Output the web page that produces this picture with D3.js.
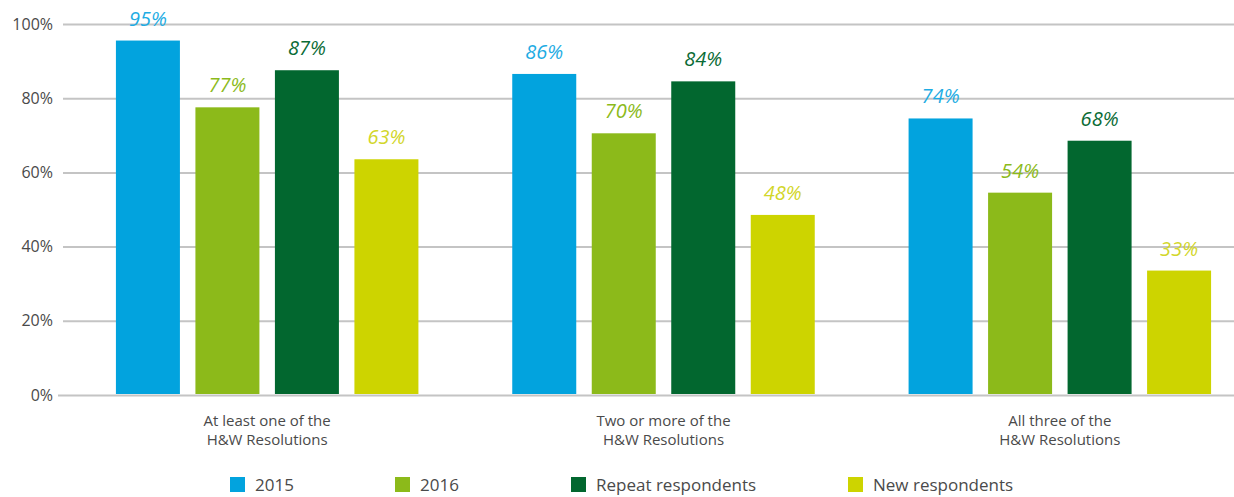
<!DOCTYPE html>
<html>
<head>
<meta charset="utf-8">
<script src="https://cdn.jsdelivr.net/npm/d3@7"></script>
<style>
	body { margin: 0; background: white; }
	text { font-family: "Open Sans", sans-serif; }
</style>
</head>
<body>
<svg></svg>
<script>
var w = 1234;
var h = 497;

// data
var categories = [["At least one of the", "H&W Resolutions"], ["Two or more of the", "H&W Resolutions"], ["All three of the", "H&W Resolutions"]];
var seriesNames = ["2015", "2016", "Repeat respondents", "New respondents"];
var values2015 = [95, 86, 74];
var values2016 = [77, 70, 54];
var valuesRepeat = [87, 84, 68];
var valuesNew = [63, 48, 33];
var yTicks = [0, 20, 40, 60, 80, 100];

var barColors = ["#02a3de", "#8cba1a", "#02672f", "#cdd400"];
var labelColors = ["#1eace3", "#8cba1a", "#0a6b35", "#d2d62a"];

var allSeries = [values2015, values2016, valuesRepeat, valuesNew];
var rows = [];
categories.forEach(function (c, i) {
	seriesNames.forEach(function (s, j) {
		rows.push({ cat: i, series: j, value: allSeries[j][i] });
	});
});

var canvas = d3.select("svg")
	.attr("width", w)
	.attr("height", h)
	.style("display", "block")
	.style("background-color", "white");

var y = d3.scaleLinear()
	.domain([0, 100])
	.range([394, 23]);

var x0 = d3.scaleBand()
	.domain(d3.range(categories.length))
	.range([69, 1258]);

var x1 = d3.scaleBand()
	.domain(d3.range(seriesNames.length))
	.range([-159, 159])
	.paddingInner(0.195)
	.paddingOuter(0.0975);

// gridlines + tick labels
var yAxis = d3.axisLeft(y)
	.tickValues(yTicks)
	.tickSize(-(w - 63))
	.tickPadding(10)
	.tickFormat(function (d) { return d + "%"; });

var axisG = canvas.append("g")
	.attr("transform", "translate(63,1)")
	.call(yAxis);
axisG.select(".domain").remove();
axisG.selectAll(".tick line")
	.attr("stroke", "#c4c4c4")
	.attr("stroke-width", 2);
axisG.selectAll(".tick")
	.filter(function (d) { return d === 0; })
	.select("line")
	.attr("x1", -5);
axisG.selectAll(".tick text")
	.attr("fill", "#4a4a4a")
	.style("font-size", "16px")
	.style("font-family", "'Open Sans', sans-serif");

// bars
canvas.append("g")
	.selectAll("rect")
	.data(rows)
	.join("rect")
	.attr("x", function (d) { return x0(d.cat) + x0.bandwidth() / 2 + x1(d.series); })
	.attr("width", x1.bandwidth())
	.attr("y", function (d) { return y(d.value) - 1; })
	.attr("height", function (d) { return y(0) - y(d.value) + 1; })
	.attr("fill", function (d) { return barColors[d.series]; });

// value labels
canvas.append("g")
	.selectAll("text")
	.data(rows)
	.join("text")
	.attr("x", function (d) { return x0(d.cat) + x0.bandwidth() / 2 + x1(d.series) + x1.bandwidth() / 2; })
	.attr("y", function (d) { return y(d.value) - 16; })
	.attr("text-anchor", "middle")
	.attr("fill", function (d) { return labelColors[d.series]; })
	.style("font-size", "20px")
	.style("font-style", "italic")
	.text(function (d) { return d.value + "%"; });

// category labels
var catG = canvas.append("g")
	.selectAll("text")
	.data(categories)
	.join("text")
	.attr("x", function (d, i) { return x0(i) + x0.bandwidth() / 2; })
	.attr("y", 426)
	.attr("text-anchor", "middle")
	.attr("fill", "#4a4a4a")
	.style("font-size", "15px");
catG.selectAll("tspan")
	.data(function (d) { return d; })
	.join("tspan")
	.attr("x", function () { return this.parentNode.getAttribute("x"); })
	.attr("dy", function (d, i) { return i === 0 ? 0 : 19; })
	.text(function (d) { return d; });

// legend
var legendX = [230, 395, 571, 848];
var legend = canvas.append("g")
	.selectAll("g")
	.data(seriesNames)
	.join("g")
	.attr("transform", function (d, i) { return "translate(" + legendX[i] + ",477)"; });
legend.append("rect")
	.attr("width", 15)
	.attr("height", 15)
	.attr("fill", function (d, i) { return barColors[i]; });
legend.append("text")
	.attr("x", 25)
	.attr("y", 14)
	.attr("fill", "#4a4a4a")
	.style("font-size", "17px")
	.text(function (d) { return d; });
</script>
</body>
</html>
